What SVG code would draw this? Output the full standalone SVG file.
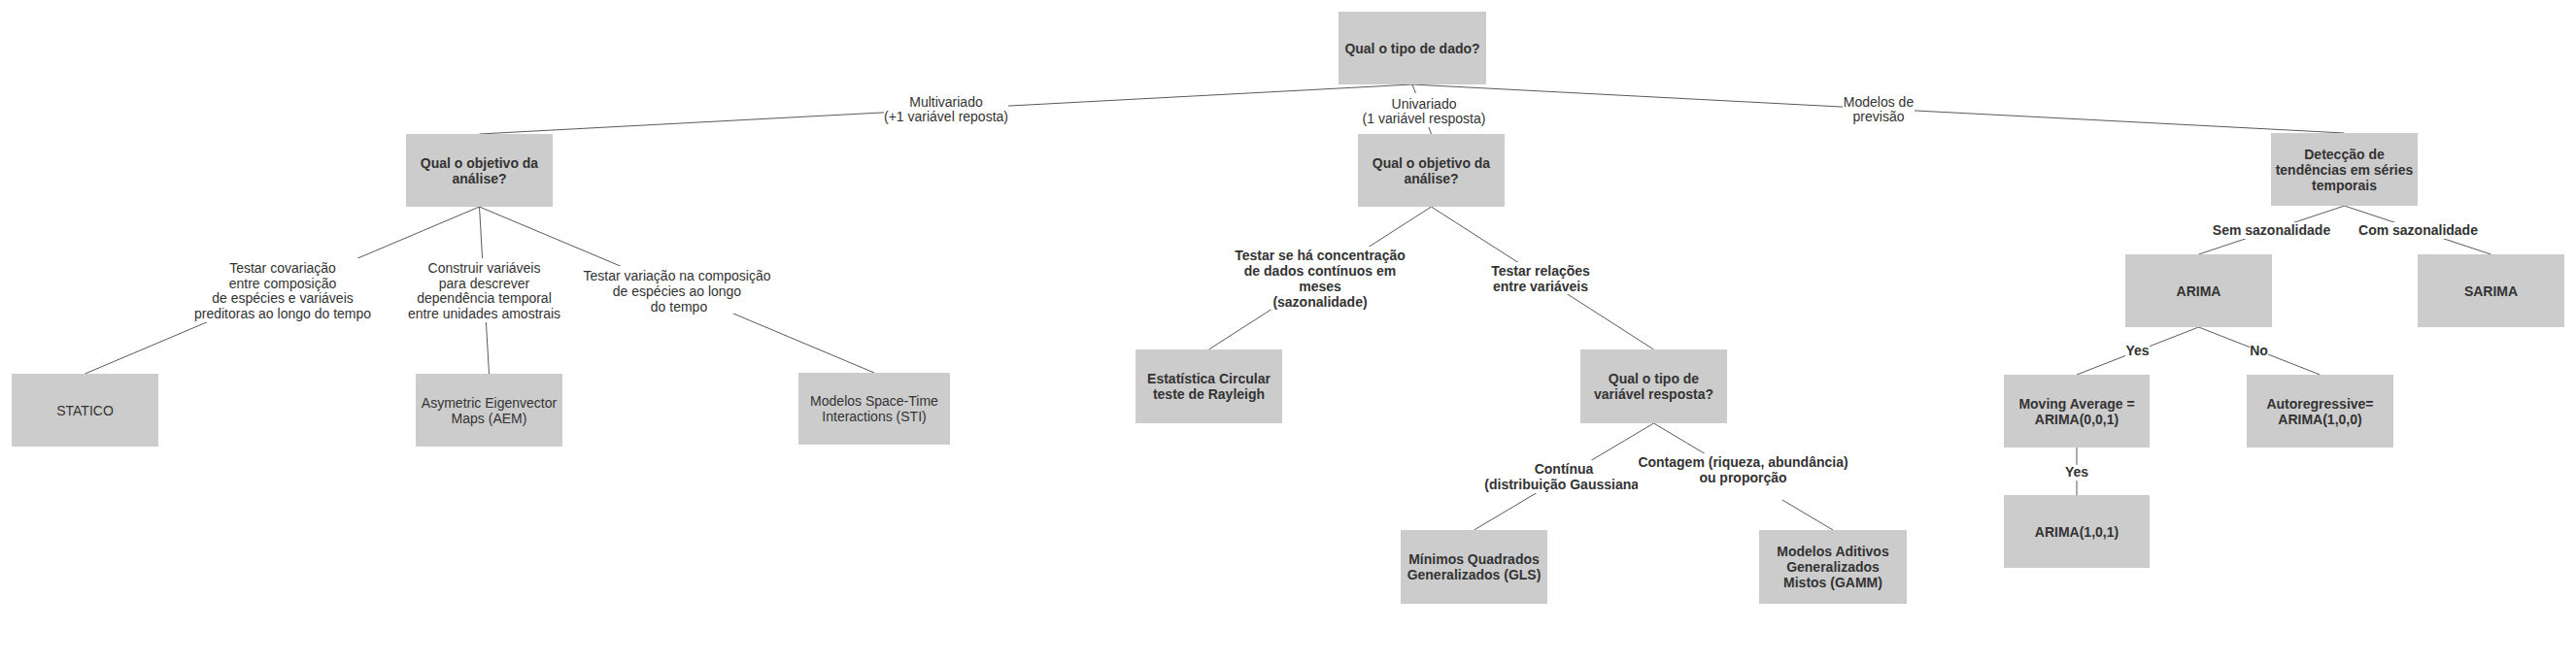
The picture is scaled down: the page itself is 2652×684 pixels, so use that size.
<svg xmlns="http://www.w3.org/2000/svg" width="2652" height="684" viewBox="0 0 2652 684">
<style>
.box{fill:#cccccc;}
.t{font-family:"Liberation Sans",Arial,sans-serif;font-size:14px;fill:#333333;text-anchor:middle;}
.b{font-weight:bold;}
.edge{stroke:#595959;stroke-width:1;fill:none;}
.lbg{fill:#ffffff;}
</style>
<rect width="2652" height="684" fill="#ffffff"/>
<g id="connectors">
<line class="edge" x1="1454" y1="87" x2="493.5" y2="138"/>
<line class="edge" x1="1454" y1="87" x2="1473.5" y2="138"/>
<line class="edge" x1="1454" y1="87" x2="2413.5" y2="137"/>
<line class="edge" x1="493.5" y1="213" x2="87.5" y2="385"/>
<line class="edge" x1="493.5" y1="213" x2="503.5" y2="385"/>
<line class="edge" x1="493.5" y1="213" x2="900" y2="384"/>
<line class="edge" x1="1473.5" y1="213" x2="1244.5" y2="360"/>
<line class="edge" x1="1473.5" y1="213" x2="1702.5" y2="360"/>
<line class="edge" x1="1702.5" y1="436" x2="1517.5" y2="546"/>
<line class="edge" x1="1702.5" y1="436" x2="1887" y2="546"/>
<line class="edge" x1="2413.5" y1="212" x2="2263.5" y2="262"/>
<line class="edge" x1="2413.5" y1="212" x2="2564.5" y2="262"/>
<line class="edge" x1="2263.5" y1="337" x2="2138" y2="386"/>
<line class="edge" x1="2263.5" y1="337" x2="2388.5" y2="386"/>
<line class="edge" x1="2138" y1="461" x2="2138" y2="510"/>
</g>
<g id="edge-labels">
<g id="lbl-multivariado"><rect class="lbg" x="910" y="95" width="128" height="34"/><text class="t" x="974" y="110">Multivariado</text><text class="t" x="974" y="125">(+1 variável reposta)</text></g>
<g id="lbl-univariado"><rect class="lbg" x="1402" y="96" width="128" height="35"/><text class="t" x="1466" y="112">Univariado</text><text class="t" x="1466" y="127">(1 variável resposta)</text></g>
<g id="lbl-previsao"><rect class="lbg" x="1897" y="96" width="74" height="33"/><text class="t" x="1934" y="110">Modelos de</text><text class="t" x="1934" y="125">previsão</text></g>
<g id="lbl-covariacao"><rect class="lbg" x="199" y="266" width="184" height="66"/><text class="t" x="291" y="281">Testar covariação</text><text class="t" x="291" y="297">entre composição</text><text class="t" x="291" y="312">de espécies e variáveis</text><text class="t" x="291" y="328">preditoras ao longo do tempo</text></g>
<g id="lbl-construir"><rect class="lbg" x="419" y="266" width="159" height="66"/><text class="t" x="498.5" y="281">Construir variáveis</text><text class="t" x="498.5" y="297">para descrever</text><text class="t" x="498.5" y="312">dependência temporal</text><text class="t" x="498.5" y="328">entre unidades amostrais</text></g>
<g id="lbl-variacao"><rect class="lbg" x="599" y="274" width="196" height="49"/><text class="t" x="697" y="289">Testar variação na composição</text><text class="t" x="697" y="305">de espécies ao longo</text><text class="t" x="699" y="321">do tempo</text></g>
<g id="lbl-concentracao"><rect class="lbg" x="1270" y="254" width="178" height="65"/><text class="t b" x="1359" y="268">Testar se há concentração</text><text class="t b" x="1359" y="284">de dados contínuos em</text><text class="t b" x="1359" y="300">meses</text><text class="t b" x="1359" y="316">(sazonalidade)</text></g>
<g id="lbl-relacoes"><rect class="lbg" x="1535" y="270" width="103" height="33"/><text class="t b" x="1586" y="284">Testar relações</text><text class="t b" x="1586" y="300">entre variáveis</text></g>
<g id="lbl-continua"><rect class="lbg" x="1527" y="474" width="166" height="34"/><text class="t b" x="1610" y="488">Contínua</text><text class="t b" x="1610" y="504">(distribuição Gaussiana)</text></g>
<g id="lbl-contagem"><rect class="lbg" x="1686" y="467" width="217" height="48"/><text class="t b" x="1794.5" y="481">Contagem (riqueza, abundância)</text><text class="t b" x="1794.5" y="497">ou proporção</text></g>
<g id="lbl-sem"><rect class="lbg" x="2277" y="229" width="123" height="17"/><text class="t b" x="2338.5" y="242">Sem sazonalidade</text></g>
<g id="lbl-com"><rect class="lbg" x="2428" y="229" width="123" height="17"/><text class="t b" x="2489.5" y="242">Com sazonalidade</text></g>
<g id="lbl-yes1"><rect class="lbg" x="2188" y="353" width="25" height="17"/><text class="t b" x="2200.5" y="366">Yes</text></g>
<g id="lbl-no"><rect class="lbg" x="2316" y="353" width="19" height="17"/><text class="t b" x="2325.5" y="366">No</text></g>
<g id="lbl-yes2"><rect class="lbg" x="2125" y="479" width="26" height="16"/><text class="t b" x="2138" y="490.5">Yes</text></g>
</g>
<g id="node-root"><rect class="box" x="1378" y="12" width="152" height="75"/><text class="t b" x="1454" y="55">Qual o tipo de dado?</text></g>
<g id="node-mv-objetivo"><rect class="box" x="418" y="138" width="151" height="75"/><text class="t b" x="493.5" y="172.5">Qual o objetivo da</text><text class="t b" x="493.5" y="188.5">análise?</text></g>
<g id="node-uv-objetivo"><rect class="box" x="1398" y="138" width="151" height="75"/><text class="t b" x="1473.5" y="172.5">Qual o objetivo da</text><text class="t b" x="1473.5" y="188.5">análise?</text></g>
<g id="node-deteccao"><rect class="box" x="2338" y="137" width="151" height="75"/><text class="t b" x="2413.5" y="163.5">Detecção de</text><text class="t b" x="2413.5" y="179.5">tendências em séries</text><text class="t b" x="2413.5" y="195.5">temporais</text></g>
<g id="node-statico"><rect class="box" x="12" y="385" width="151" height="75"/><text class="t" x="87.5" y="427.5">STATICO</text></g>
<g id="node-aem"><rect class="box" x="428" y="385" width="151" height="75"/><text class="t" x="503.5" y="419.5">Asymetric Eigenvector</text><text class="t" x="503.5" y="435.5">Maps (AEM)</text></g>
<g id="node-sti"><rect class="box" x="822" y="384" width="156" height="74"/><text class="t" x="900" y="418">Modelos Space-Time</text><text class="t" x="900" y="434">Interactions (STI)</text></g>
<g id="node-estatistica"><rect class="box" x="1169" y="360" width="151" height="76"/><text class="t b" x="1244.5" y="395">Estatística Circular</text><text class="t b" x="1244.5" y="411">teste de Rayleigh</text></g>
<g id="node-tipo-variavel"><rect class="box" x="1627" y="360" width="151" height="76"/><text class="t b" x="1702.5" y="395">Qual o tipo de</text><text class="t b" x="1702.5" y="411">variável resposta?</text></g>
<g id="node-gls"><rect class="box" x="1442" y="546" width="151" height="76"/><text class="t b" x="1517.5" y="581">Mínimos Quadrados</text><text class="t b" x="1517.5" y="597">Generalizados (GLS)</text></g>
<g id="node-gamm"><rect class="box" x="1811" y="546" width="152" height="76"/><text class="t b" x="1887" y="573">Modelos Aditivos</text><text class="t b" x="1887" y="589">Generalizados</text><text class="t b" x="1887" y="605">Mistos (GAMM)</text></g>
<g id="node-arima"><rect class="box" x="2188" y="262" width="151" height="75"/><text class="t b" x="2263.5" y="304.5">ARIMA</text></g>
<g id="node-sarima"><rect class="box" x="2489" y="262" width="151" height="75"/><text class="t b" x="2564.5" y="304.5">SARIMA</text></g>
<g id="node-ma"><rect class="box" x="2063" y="386" width="150" height="75"/><text class="t b" x="2138" y="420.5">Moving Average =</text><text class="t b" x="2138" y="436.5">ARIMA(0,0,1)</text></g>
<g id="node-ar"><rect class="box" x="2313" y="386" width="151" height="75"/><text class="t b" x="2388.5" y="420.5">Autoregressive=</text><text class="t b" x="2388.5" y="436.5">ARIMA(1,0,0)</text></g>
<g id="node-arima101"><rect class="box" x="2063" y="510" width="150" height="75"/><text class="t b" x="2138" y="552.5">ARIMA(1,0,1)</text></g>
</svg>
